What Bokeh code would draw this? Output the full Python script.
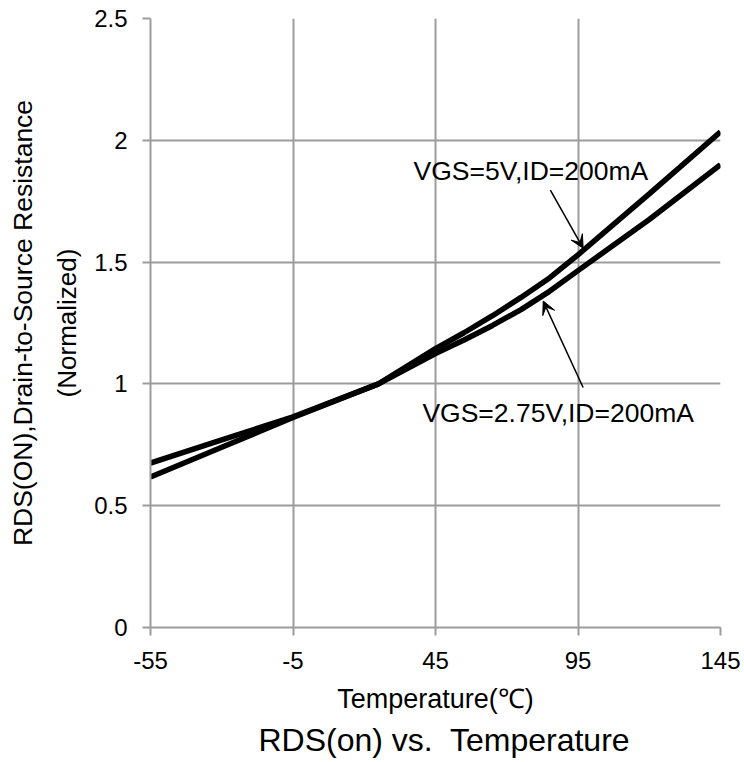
from bokeh.plotting import figure
from bokeh.models import Range1d, FixedTicker, LinearAxis, Arrow, VeeHead, Title
from bokeh.core.properties import value
from bokeh.embed import file_html
from bokeh.resources import INLINE

# ---- data ----
temps = [-55, -30, -5, 25, 45, 55, 65, 75, 85, 95, 120, 145]
rds_5v = [0.618, 0.74, 0.862, 1.0, 1.145, 1.21, 1.28, 1.355, 1.435, 1.53, 1.78, 2.035]
rds_275v = [0.675, 0.77, 0.865, 1.0, 1.125, 1.18, 1.24, 1.305, 1.38, 1.465, 1.675, 1.90]

x_ticks = [-55, -5, 45, 95, 145]
x_tick_labels = ["-55", "-5", "45", "95", "145"]
y_ticks = [0, 0.5, 1, 1.5, 2, 2.5]
y_tick_labels = ["0", "0.5", "1", "1.5", "2", "2.5"]

label_texts = ["VGS=5V,ID=200mA", "VGS=2.75V,ID=200mA"]
label_x = [37.3, 40.4]
label_y = [1.875, 0.879]

# arrow tails / heads (data units)
arrow_x0 = [85.3, 96.8]
arrow_y0 = [1.795, 0.985]
arrow_x1 = [96.8, 82.8]
arrow_y1 = [1.557, 1.34]

FONT = "Liberation Sans"
GRID = "#9c9c9c"

p = figure(width=744, height=762,
           x_range=Range1d(-55, 145), y_range=Range1d(0, 2.5),
           output_backend="svg", toolbar_location=None,
           min_border_left=150, min_border_right=24,
           min_border_top=18, min_border_bottom=135)
p.outline_line_color = None
p.background_fill_color = "white"

# axes
for ax in (p.xaxis, p.yaxis):
    ax.axis_line_color = GRID
    ax.axis_line_width = 2
    ax.major_tick_line_color = GRID
    ax.major_tick_line_width = 2
    ax.major_tick_out = 8
    ax.major_tick_in = 0
    ax.minor_tick_line_color = None
    ax.major_label_text_font = FONT
    ax.major_label_text_font_size = "24px"
    ax.major_label_text_color = "black"
    ax.axis_label_text_font = FONT
    ax.axis_label_text_font_style = "normal"
    ax.axis_label_text_color = "black"

p.xaxis.ticker = FixedTicker(ticks=x_ticks)
p.xaxis.major_label_overrides = {t: l for t, l in zip(x_ticks, x_tick_labels)}
p.yaxis.ticker = FixedTicker(ticks=y_ticks)
p.yaxis.major_label_overrides = {t: l for t, l in zip(y_ticks, y_tick_labels)}
p.xaxis.major_label_standoff = 16
p.yaxis.major_label_standoff = 15
p.xaxis.axis_label = "Temperature(\u2103)"
p.xaxis.axis_label_text_font_size = "27px"
p.xaxis.axis_label_standoff = 12
p.yaxis.axis_label = "(Normalized)"
p.yaxis.axis_label_text_font_size = "26px"
p.yaxis.axis_label_standoff = 9

extra = LinearAxis(axis_label="RDS(ON),Drain-to-Source Resistance",
                   ticker=FixedTicker(ticks=[]),
                   axis_line_color=None, major_tick_line_color=None,
                   minor_tick_line_color=None,
                   axis_label_text_font=FONT, axis_label_text_font_size="26.5px",
                   axis_label_text_font_style="normal",
                   axis_label_text_color="black", axis_label_standoff=12)
p.add_layout(extra, "left")

# grid
p.xgrid.ticker = FixedTicker(ticks=x_ticks)
p.ygrid.ticker = FixedTicker(ticks=y_ticks)
p.grid.grid_line_color = GRID
p.grid.grid_line_width = 2

# curves
p.line(temps, rds_5v, line_color="black", line_width=5.5)
p.line(temps, rds_275v, line_color="black", line_width=5.5)

# annotation texts
p.text(x=label_x, y=label_y, text=label_texts, text_font=value(FONT),
       text_font_size="26.5px", text_align="left", text_baseline="middle",
       text_color="black")

for x0, y0, x1, y1 in zip(arrow_x0, arrow_y0, arrow_x1, arrow_y1):
    p.add_layout(Arrow(x_start=x0, y_start=y0, x_end=x1, y_end=y1,
                       line_color="black", line_width=1.5,
                       end=VeeHead(size=13, fill_color="black",
                                   line_color="black", line_width=1)))

p.add_layout(Title(text="RDS(on) vs.\u00a0 Temperature", align="left",
                   offset=108, standoff=7,
                   text_font=FONT, text_font_size="32px",
                   text_font_style="normal", text_color="black"), "below")

open("out.html", "w").write(file_html(p, INLINE))
